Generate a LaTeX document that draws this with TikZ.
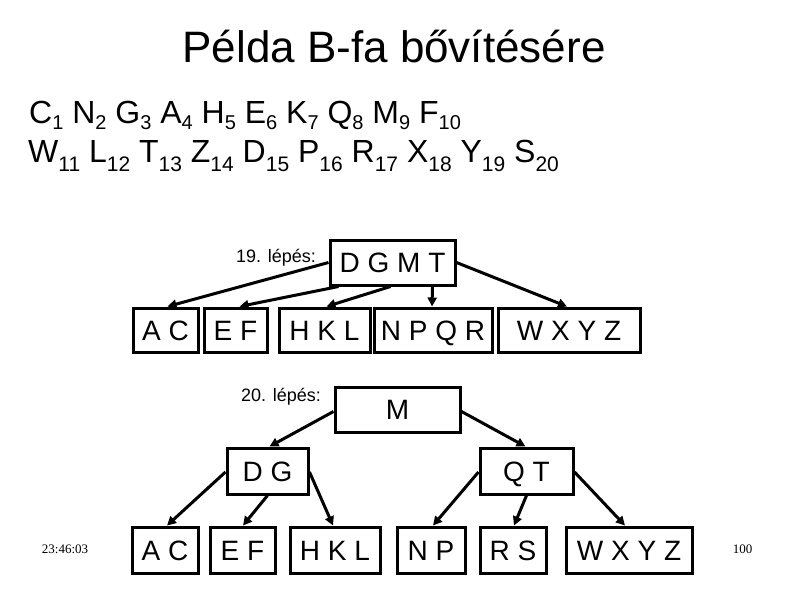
\documentclass[tikz,border=0pt]{standalone}
\usepackage{fontspec}
\setmainfont{Liberation Sans}
\newfontfamily\tms{Liberation Serif}
\usetikzlibrary{arrows.meta,calc}
\newcommand{\sa}[1]{\raisebox{-6pt}{\fontsize{20}{20}\selectfont #1}}
\newcommand{\sbb}[1]{\raisebox{-9pt}{\fontsize{21}{21}\selectfont #1}}
\tikzset{
  kbox/.style={draw=black, line width=3pt, inner sep=0pt, minimum height=#1,
    text height=20pt, text depth=0pt,
    font=\fontsize{28}{28}\selectfont, anchor=center},
  kbox/.default=45pt,
  arr/.style={line width=3pt, -{Triangle[length=9pt,width=9pt]}, shorten >=0pt},
  lbl/.style={font=\fontsize{18}{18}\selectfont, inner sep=0pt},
  seq/.style={font=\fontsize{32}{32}\selectfont, inner sep=0pt, anchor=base west},
  foot/.style={font=\tms\fontsize{13}{13}\selectfont, inner sep=0pt}
}
\begin{document}
\begin{tikzpicture}[x=1pt,y=-1pt]
\useasboundingbox (0,0) rectangle (794,595);
\fill[white] (0,0) rectangle (794,595);
% title
\node[font=\fontsize{44}{44}\selectfont, inner sep=0pt, anchor=base] (title) at (394,62) {Példa B-fa bővítésére};
\node[seq] (l1) at (29,123) {C\sa{1} N\sa{2} G\sa{3} A\sa{4} H\sa{5} E\sa{6} K\sa{7} Q\sa{8} M\sa{9} F\sa{10}};
\node[seq] (l2) at (28,162) {W\sbb{11} L\sbb{12} T\sbb{13} Z\sbb{14} D\sbb{15} P\sbb{16} R\sbb{17} X\sbb{18} Y\sbb{19} S\sbb{20}};
% step 19
\node[lbl] (s19) at (276,258) {19. lépés:};
\node[kbox, minimum width=125pt] (dgmt) at (392.5,262.5) {D G M T};
\node[kbox=44pt, minimum width=65pt] (ac1) at (165.5,330) {A C};
\node[kbox=44pt, minimum width=63pt] (ef1) at (235.5,330) {E F};
\node[kbox=44pt, minimum width=91pt] (hkl1) at (324.5,330) {H K L};
\node[kbox=44pt, minimum width=118pt] (npqr1) at (433,330) {N P Q R};
\node[kbox=44pt, minimum width=142pt] (wxyz1) at (569,330) {W X Y Z};
\draw[arr] (dgmt.west) -- ($(ac1.north)+(2,0)$);
\draw[arr] ($(dgmt.south west)+(10,0)$) -- ($(ef1.north)+(4,0)$);
\draw[arr] ($(dgmt.south)+(-2,0)$) -- ($(hkl1.north)+(2,0)$);
\draw[arr] ($(dgmt.south)+(40,0)$) -- ($(npqr1.north)+(-1,0)$);
\draw[arr] (dgmt.east) -- ($(wxyz1.north)+(-2,0)$);
% step 20
\node[lbl] (s20) at (281,397) {20. lépés:};
\node[kbox, minimum width=125pt] (m) at (397.5,409.5) {M};
\node[kbox=46pt, minimum width=81pt] (dg) at (267.5,471) {D G};
\node[kbox=46pt, minimum width=93pt] (qt) at (526.5,471) {Q T};
\node[kbox=46pt, minimum width=66pt] (ac2) at (165,550) {A C};
\node[kbox=46pt, minimum width=65pt] (ef2) at (242.5,550) {E F};
\node[kbox=46pt, minimum width=90pt] (hkl2) at (335,550) {H K L};
\node[kbox=46pt, minimum width=68pt] (np2) at (431,550) {N P};
\node[kbox=46pt, minimum width=66pt] (rs2) at (513,550) {R S};
\node[kbox=46pt, minimum width=126pt] (wxyz2) at (629,550) {W X Y Z};
\draw[arr] ($(m.west)+(0,2)$) -- ($(dg.north)+(2,0)$);
\draw[arr] ($(m.east)+(0,2)$) -- ($(qt.north)+(-1,0)$);
\draw[arr] ($(dg.west)+(0,1)$) -- ($(ac2.north)+(2,0)$);
\draw[arr] (dg.south) -- ($(ef2.north)+(0.5,0)$);
\draw[arr] ($(dg.east)+(0,1)$) -- ($(hkl2.north)+(-2,0)$);
\draw[arr] ($(qt.west)+(0,1)$) -- ($(np2.north)+(2,0)$);
\draw[arr] (qt.south) -- ($(rs2.north)+(1,0)$);
\draw[arr] ($(qt.east)+(0,1)$) -- ($(wxyz2.north)+(-4,0)$);
% footer
\node[foot] (time) at (65,549) {23:46:03};
\node[foot] (page) at (742.5,549) {100};
\end{tikzpicture}
\end{document}
